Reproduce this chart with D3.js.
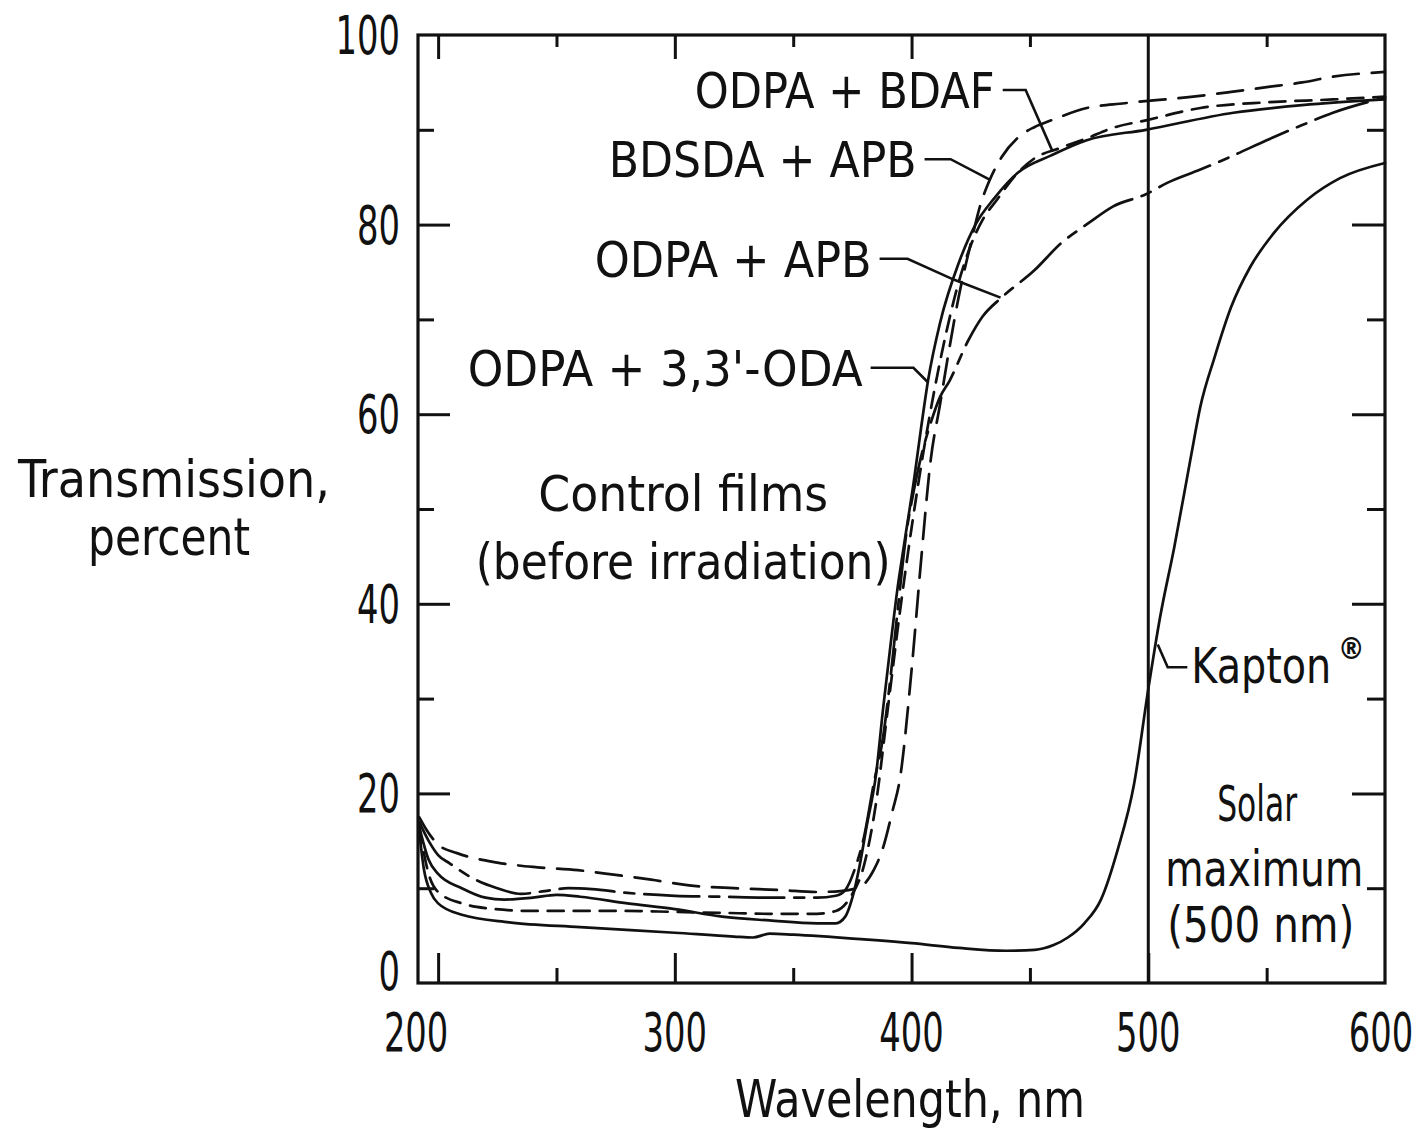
<!DOCTYPE html>
<html>
<head>
<meta charset="utf-8">
<script src="https://cdn.jsdelivr.net/npm/d3@7"></script>
<style>
  html, body { margin: 0; padding: 0; background: #fff; }
  svg { display: block; }
  text { font-family: "Liberation Sans Narrow", "DejaVu Sans Condensed", "Liberation Sans", sans-serif; fill: #111; }
</style>
</head>
<body>
<svg id="chart" width="1421" height="1130"></svg>
<script>
// ---------------- data ----------------
const xTicksMajor = [200, 300, 400, 500, 600];
const xTicksMinor = [250, 350, 450, 550];
const xTickLabels = ["200", "300", "400", "500", "600"];
const yTicksMajor = [0, 20, 40, 60, 80, 100];
const yTicksMinor = [10, 30, 50, 70, 90];
const yTickLabels = ["0", "20", "40", "60", "80", "100"];

// BDSDA + APB (long dashes)
const wlBDSDA = [192, 195, 200, 208, 225, 242, 259, 275, 290, 306, 325, 345, 360, 370, 378, 384, 388, 392, 395, 400, 404, 408, 412, 416, 420, 425, 429, 433, 438, 445, 452, 459, 474, 490, 519, 535, 550, 565, 578, 600];
const trBDSDA = [17.5, 16.2, 14.6, 13.7, 12.7, 12.2, 11.9, 11.4, 10.9, 10.3, 10.0, 9.8, 9.6, 9.7, 10.1, 11.9, 14.3, 18.2, 21.4, 33.0, 44.5, 55.0, 61.0, 67.0, 72.5, 78.0, 82.0, 84.7, 87.1, 89.2, 90.3, 91.0, 92.3, 92.8, 93.5, 94.0, 94.5, 95.0, 95.6, 96.1];

// ODPA + BDAF (short dashes)
const wlBDAF = [192, 196, 200, 210, 220, 240, 260, 280, 300, 320, 340, 360, 368, 374, 380, 385, 390, 395, 400, 405, 410, 415, 420, 425, 430, 436, 445, 452, 463, 474, 485, 499, 522, 550, 578, 600];
const trBDAF = [16.5, 11.5, 9.6, 8.4, 7.9, 7.6, 7.6, 7.6, 7.5, 7.4, 7.3, 7.3, 7.6, 9.0, 12.5, 19.0, 29.0, 39.0, 48.0, 56.0, 63.0, 69.0, 74.0, 77.8, 80.5, 82.6, 85.5, 87.0, 88.1, 89.1, 90.2, 91.0, 92.3, 92.9, 93.2, 93.5];

// ODPA + APB (dash-dot)
const wlAPB = [192, 196, 200, 205, 215, 225, 235, 245, 255, 265, 280, 300, 320, 340, 360, 368, 372, 376, 380, 384, 388, 391, 394, 398, 401, 404, 408, 412, 416, 424, 430, 438, 452, 463, 475, 485, 499, 508, 522, 536, 550, 565, 578, 600];
const trAPB = [17.0, 15.0, 13.5, 12.6, 11.0, 10.0, 9.4, 9.7, 10.0, 9.9, 9.5, 9.2, 9.1, 9.0, 9.0, 9.2, 9.8, 12.0, 15.5, 21.0, 26.0, 32.0, 39.0, 47.8, 52.0, 55.5, 59.0, 61.8, 63.5, 67.8, 70.3, 72.3, 75.2, 78.0, 80.2, 81.9, 83.2, 84.4, 85.8, 87.3, 88.9, 90.5, 91.8, 93.4];

// ODPA + 3,3'-ODA (solid)
const wlODA = [192, 196, 200, 210, 220, 228, 240, 250, 260, 280, 300, 320, 340, 360, 368, 372, 375, 378, 381, 385, 388, 391, 394, 397, 401, 404, 407, 412, 420, 427, 435, 445, 459, 474, 499, 536, 565, 600];
const trODA = [16.5, 13.0, 11.5, 10.0, 9.0, 8.8, 9.0, 9.3, 9.1, 8.4, 7.8, 7.0, 6.6, 6.3, 6.3, 7.0, 9.0, 12.3, 16.5, 22.0, 29.0, 35.4, 41.5, 46.5, 53.0, 58.5, 63.6, 69.6, 76.0, 80.0, 82.8, 85.5, 87.3, 88.9, 90.0, 91.8, 92.6, 93.2];

// Kapton (solid)
const wlKapton = [192, 194, 197, 200, 210, 230, 260, 300, 325, 333, 340, 350, 380, 400, 420, 440, 452, 460, 466, 473, 480, 487, 494, 500, 505, 511, 518, 522, 528, 535, 543, 553, 567, 581, 600];
const trKapton = [16.0, 12.0, 9.5, 8.4, 7.2, 6.4, 5.9, 5.3, 4.9, 4.8, 5.2, 5.1, 4.6, 4.2, 3.7, 3.4, 3.5, 4.0, 4.8, 6.3, 8.8, 14.0, 21.0, 31.0, 38.6, 46.0, 55.5, 60.8, 66.0, 71.3, 75.5, 79.1, 82.6, 84.9, 86.5];

const solarLine = 500;

// ---------------- layout ----------------
const svg = d3.select("#chart");
const x = d3.scaleLinear().domain([191.5, 600]).range([418, 1385]);
const y = d3.scaleLinear().domain([0, 100]).range([983, 35]);

const ink = "#111";
const series = [
  { wl: wlBDSDA, tr: trBDSDA, dash: "26,13" },
  { wl: wlBDAF, tr: trBDAF, dash: "16,10" },
  { wl: wlAPB, tr: trAPB, dash: "55,10,10,10" },
  { wl: wlODA, tr: trODA, dash: null },
  { wl: wlKapton, tr: trKapton, dash: null }
];

const line = d3.line().x(d => x(d[0])).y(d => y(d[1])).curve(d3.curveMonotoneX);

const g = svg.append("g");
series.forEach(s => {
  g.append("path")
    .datum(s.wl.map((w, i) => [w, s.tr[i]]))
    .attr("d", line)
    .attr("fill", "none")
    .attr("stroke", ink)
    .attr("stroke-width", 2.7)
    .attr("stroke-linecap", "round")
    .attr("stroke-dasharray", s.dash);
});

// solar maximum line
g.append("line")
  .attr("x1", x(solarLine)).attr("x2", x(solarLine))
  .attr("y1", y(0)).attr("y2", y(100))
  .attr("stroke", ink).attr("stroke-width", 3);

// frame
g.append("rect")
  .attr("x", x(191.5)).attr("y", y(100))
  .attr("width", x(600) - x(191.5)).attr("height", y(0) - y(100))
  .attr("fill", "none").attr("stroke", ink).attr("stroke-width", 3.2);

// ticks (inward) via axes
function tickAxis(axisFn, scale, vals, size, transform) {
  const a = axisFn(scale).tickValues(vals).tickSize(size).tickFormat("");
  const ga = g.append("g").attr("transform", transform).call(a);
  ga.select(".domain").remove();
  ga.selectAll(".tick line").attr("stroke", ink).attr("stroke-width", 3);
}
tickAxis(d3.axisRight, y, yTicksMajor.filter(v => v > 0 && v < 100), 32, `translate(${x(191.5)},0)`);
tickAxis(d3.axisRight, y, yTicksMinor, 16, `translate(${x(191.5)},0)`);
tickAxis(d3.axisLeft, y, yTicksMajor.filter(v => v > 0 && v < 100), 33, `translate(${x(600)},0)`);
tickAxis(d3.axisLeft, y, yTicksMinor, 18, `translate(${x(600)},0)`);
tickAxis(d3.axisTop, x, xTicksMajor.filter(v => v < 600), 30, `translate(0,${y(0)})`);
tickAxis(d3.axisTop, x, xTicksMinor, 15, `translate(0,${y(0)})`);
tickAxis(d3.axisBottom, x, xTicksMajor.filter(v => v < 600 && v !== 500), 24, `translate(0,${y(100)})`);
tickAxis(d3.axisBottom, x, xTicksMinor, 12, `translate(0,${y(100)})`);

// text helper: natural glyphs, then squeezed horizontally to the target width
function label(txt, cx, cy, len, size, anchor, weight) {
  const t = svg.append("text")
    .attr("x", 0).attr("y", 0)
    .attr("text-anchor", anchor || "middle")
    .attr("font-size", size || 50)
    .attr("font-weight", weight || null)
    .text(txt);
  let sx = 1;
  if (len) {
    const nat = t.node().getComputedTextLength();
    if (nat > 0) sx = len / nat;
  }
  t.attr("transform", `translate(${cx},${cy}) scale(${sx},1)`);
  return t;
}

// tick labels (condensed digits)
const fs = 53;
const digitW = 21.5;
yTicksMajor.forEach((v, i) => {
  label(yTickLabels[i], x(191.5) - 18, y(v) + 19 - (v === 0 ? 12 : 0),
        digitW * yTickLabels[i].length, fs, "end");
});
xTicksMajor.forEach((v, i) => {
  label(xTickLabels[i], x(v) - (v === 200 ? 22 : 0) - (v === 600 ? 4 : 0), y(0) + 68,
        digitW * xTickLabels[i].length, fs, "middle");
});

// axis titles
label("Wavelength, nm", 910, 1117, 350, 52);
label("Transmission,", 174, 497, 312, 52);
label("percent", 169, 555, 162, 52);

// annotations (positions in data units)
const annotations = [
  { text: "ODPA + BDAF", t: 94.2, len: 300,
    leader: [[438.5, 94.2], [448.2, 94.2], [459.6, 87.7]] },
  { text: "BDSDA + APB", t: 86.9, len: 308,
    leader: [[405.5, 86.9], [416.5, 86.9], [433.4, 84.7]] },
  { text: "ODPA + APB", t: 76.4, len: 277,
    leader: [[386.5, 76.4], [398.3, 76.4], [417.8, 74.2], [437.6, 72.3]] },
  { text: "ODPA + 3,3'-ODA", t: 64.9, len: 395,
    leader: [[382.7, 64.9], [400.8, 64.9], [406.8, 63.4]] },
  { text: "Control films", w: 303.5, t: 51.9, len: 290, anchor: "middle" },
  { text: "(before irradiation)", w: 303.5, t: 44.7, len: 415, anchor: "middle" },
  { text: "Kapton", w: 518.2, t: 31.6, len: 140, anchor: "start",
    leader: [[516.5, 33.3], [508.2, 33.3], [504.0, 35.7]] },
  { text: "Solar", w: 546, t: 17.1, len: 80, anchor: "middle" },
  { text: "maximum", w: 549, t: 10.2, len: 198, anchor: "middle" },
  { text: "(500 nm)", w: 547.5, t: 4.3, len: 187, anchor: "middle" }
];
annotations.forEach(a => {
  if (a.anchor) {
    const dy = a.anchor === "middle" && a.t > 40 ? 20 : 0;
    label(a.text, x(a.w), y(a.t) + dy, a.len, 50, a.anchor);
  } else {
    // right-aligned label sitting on the start of its leader
    label(a.text, x(a.leader[0][0]) - 8, y(a.t) + 18, a.len, 50, "end");
  }
  if (a.leader) {
    g.append("path")
      .attr("d", d3.line().x(d => x(d[0])).y(d => y(d[1]))(a.leader))
      .attr("fill", "none").attr("stroke", ink).attr("stroke-width", 2.6);
  }
});
// registered mark
label("®", x(518.2) + 160, y(34.2), null, 30, "middle", "bold");
</script>
</body>
</html>
